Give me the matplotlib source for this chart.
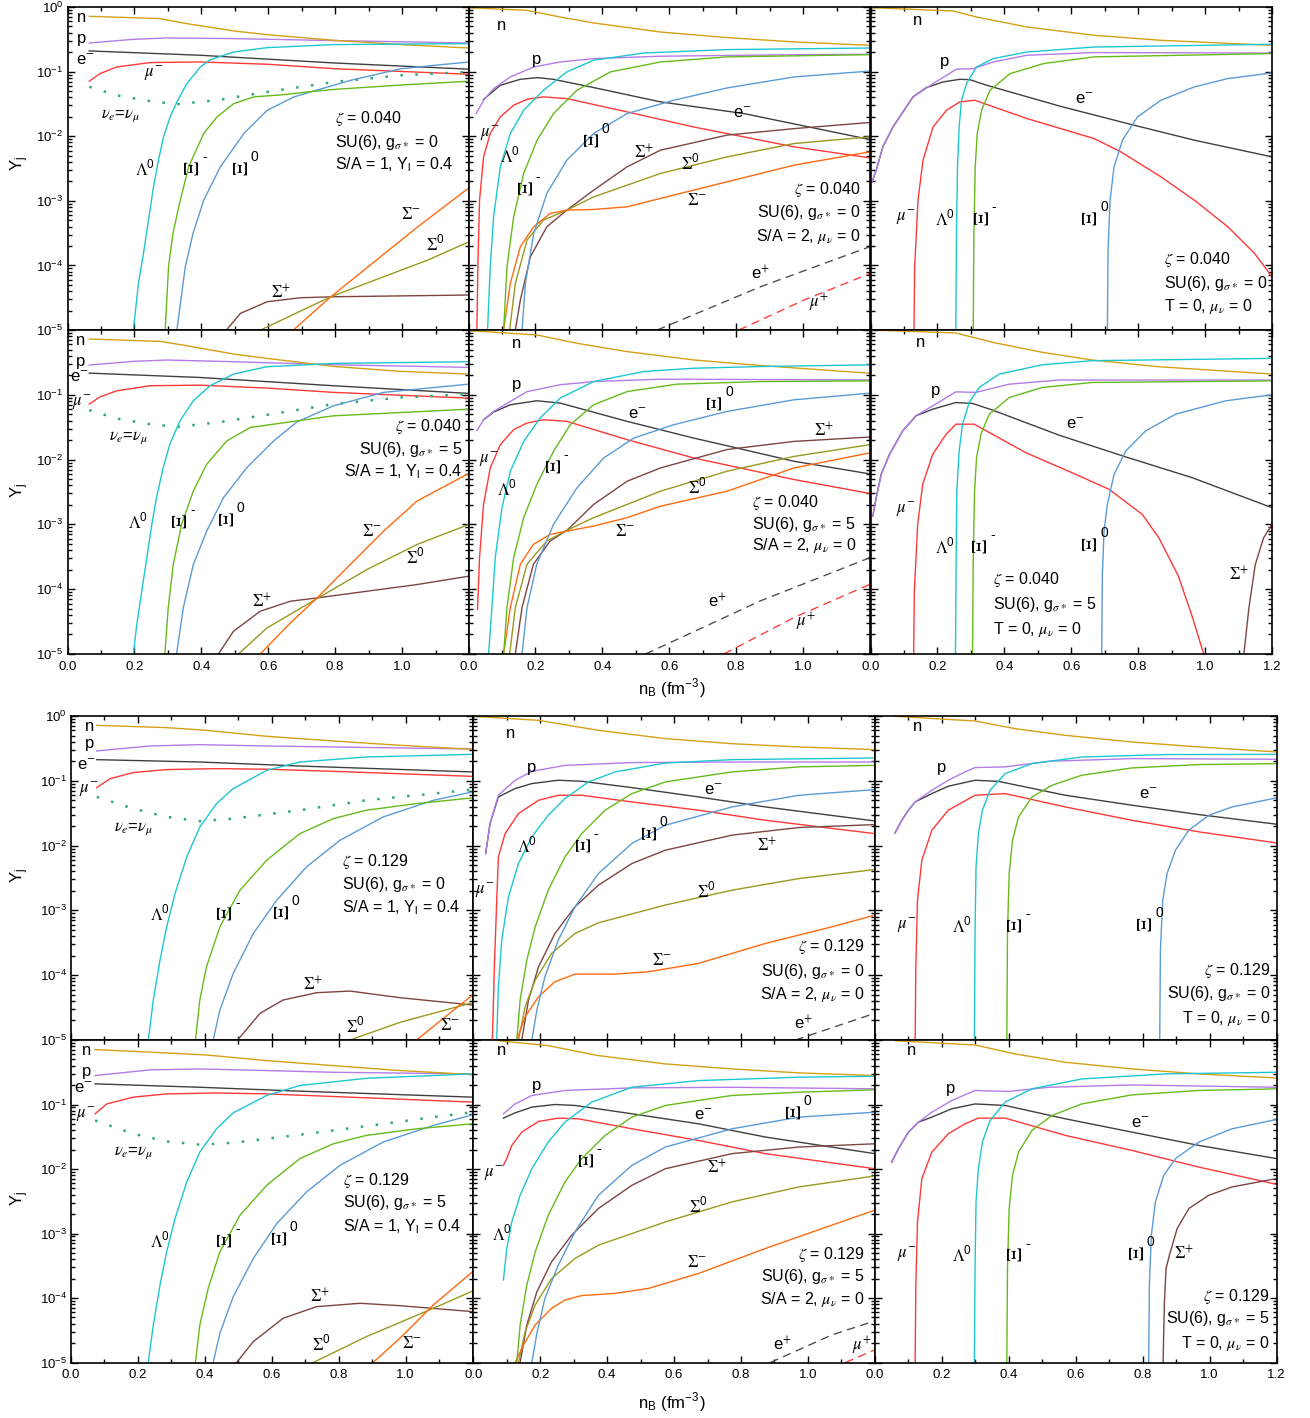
import matplotlib

matplotlib.use("Agg")
import matplotlib.pyplot as plt
from matplotlib.ticker import FixedFormatter, FixedLocator, LogLocator, NullFormatter

plt.rcParams["font.family"] = ["Liberation Sans", "DejaVu Sans"]
plt.rcParams["mathtext.fontset"] = "stix"

# ---- particle fractions Y_j versus n_B, one dict per panel: key -> (n_B, Y) ----

# zeta = 0.040, g_sigma* = 0, S/A = 1, Y_l = 0.4
A1 = {
    "n": ([0.065, 0.277, 0.357, 0.497, 0.597, 0.797, 0.997, 1.2], [0.718, 0.661, 0.552, 0.426, 0.373, 0.305, 0.262, 0.232]),
    "p": ([0.065, 0.197, 0.297, 0.497, 0.797, 1.2], [0.277, 0.316, 0.332, 0.324, 0.302, 0.277]),
    "e": ([0.065, 0.397, 0.797, 1.2], [0.209, 0.179, 0.136, 0.109]),
    "mu": ([0.065, 0.097, 0.147, 0.247, 0.397, 0.597, 0.797, 1.2], [0.071, 0.093, 0.118, 0.138, 0.141, 0.130, 0.111, 0.091]),
    "nu": ([0.065, 0.147, 0.247, 0.327, 0.447, 0.597, 0.797, 0.997, 1.2], [0.058, 0.043, 0.0348, 0.0313, 0.0361, 0.0485, 0.0692, 0.0877, 0.0989]),
    "lam": ([0.197, 0.212, 0.227, 0.242, 0.257, 0.272, 0.287, 0.307, 0.327, 0.357, 0.397, 0.427, 0.497, 0.597, 0.797, 1.2],
            [1e-5, 5.27e-5, 1.53e-4, 5.02e-4, 1.64e-3, 4.26e-3, 9.77e-3, 0.0199, 0.034, 0.0652, 0.118, 0.153, 0.201, 0.235, 0.262, 0.271]),
    "xim": ([0.292, 0.302, 0.315, 0.337, 0.362, 0.407, 0.447, 0.497, 0.557, 0.647, 0.727, 0.797, 0.997, 1.2],
            [1e-5, 9.5e-5, 3.1e-4, 1.02e-3, 3.36e-3, 0.011, 0.0199, 0.032, 0.0406, 0.044, 0.049, 0.053, 0.062, 0.071]),
    "xi0": ([0.327, 0.352, 0.375, 0.407, 0.457, 0.527, 0.597, 0.677, 0.727, 0.847, 0.997, 1.2],
            [1e-5, 9.5e-5, 3.1e-4, 1.02e-3, 3.36e-3, 0.011, 0.0252, 0.0406, 0.0485, 0.0735, 0.111, 0.141]),
    "sigp": ([0.475, 0.517, 0.597, 0.697, 0.797, 1.2], [1e-5, 1.81e-5, 2.74e-5, 3.16e-5, 3.27e-5, 3.48e-5]),
    "sig0": ([0.577, 0.787, 1.077, 1.2], [1e-5, 3.27e-5, 1.21e-4, 2.32e-4]),
    "sigm": ([0.675, 0.787, 1.047, 1.2], [1e-5, 3.27e-5, 3.96e-4, 1.59e-3]),
}

# zeta = 0.040, g_sigma* = 0, S/A = 2, mu_nu = 0
A2 = {
    "n": ([0.0, 0.175, 0.274, 0.374, 0.574, 0.773, 0.973, 1.2], [0.977, 0.887, 0.70, 0.566, 0.41, 0.336, 0.288, 0.255]),
    "p": ([0.023, 0.045, 0.075, 0.125, 0.195, 0.274, 0.374, 0.574, 0.973, 1.2], [0.0224, 0.036, 0.0546, 0.0827, 0.118, 0.141, 0.159, 0.173, 0.183, 0.185]),
    "e": ([0.045, 0.095, 0.155, 0.205, 0.254, 0.374, 0.574, 0.823, 1.2], [0.037, 0.0615, 0.076, 0.0807, 0.076, 0.0566, 0.034, 0.0224, 0.00888]),
    "mu": ([0.025, 0.028, 0.033, 0.045, 0.065, 0.095, 0.135, 0.175, 0.224, 0.294, 0.474, 0.673, 0.973, 1.2],
           [1e-5, 9.5e-5, 1.02e-3, 4.79e-3, 0.011, 0.0199, 0.0302, 0.0373, 0.0406, 0.0382, 0.0238, 0.0139, 0.00684, 0.00462]),
    "lam": ([0.057, 0.065, 0.075, 0.095, 0.125, 0.165, 0.224, 0.294, 0.374, 0.524, 0.773, 1.2],
            [1e-5, 9.5e-5, 5.66e-4, 3.36e-3, 0.011, 0.0252, 0.0514, 0.0989, 0.15, 0.194, 0.219, 0.232]),
    "xim": ([0.105, 0.115, 0.135, 0.165, 0.205, 0.254, 0.324, 0.424, 0.574, 0.773, 1.2],
            [1e-5, 9.5e-5, 5.66e-4, 2.65e-3, 8.67e-3, 0.0224, 0.0514, 0.0989, 0.141, 0.169, 0.183]),
    "xi0": ([0.16, 0.17, 0.195, 0.234, 0.294, 0.374, 0.474, 0.613, 0.773, 0.973, 1.2],
            [1e-5, 5.27e-5, 3.13e-4, 1.3e-3, 4.26e-3, 0.011, 0.0224, 0.036, 0.0559, 0.0827, 0.102]),
    "sigp": ([0.14, 0.155, 0.185, 0.234, 0.294, 0.374, 0.474, 0.574, 0.773, 0.973, 1.2],
             [1e-5, 2.91e-5, 1.36e-4, 3.96e-4, 7.18e-4, 1.46e-3, 3.36e-3, 6.08e-3, 0.0104, 0.0131, 0.0163]),
    "sig0": ([0.123, 0.14, 0.175, 0.224, 0.294, 0.374, 0.574, 0.773, 0.973, 1.2],
             [1e-5, 5.27e-5, 2.47e-4, 5.02e-4, 7.18e-4, 1.15e-3, 2.65e-3, 4.79e-3, 7.7e-3, 9.77e-3]),
    "sigm": ([0.105, 0.125, 0.155, 0.195, 0.244, 0.294, 0.374, 0.474, 0.574, 0.773, 0.973, 1.2],
             [1e-5, 5.27e-5, 1.95e-4, 3.96e-4, 6.37e-4, 7.18e-4, 7.34e-4, 8.07e-4, 1.09e-3, 1.97e-3, 3.56e-3, 5.73e-3]),
    "ep": ([0.564, 0.873, 1.2], [1e-5, 4.68e-5, 1.95e-4]),
    "mup": ([0.808, 1.003, 1.2], [1e-5, 2.91e-5, 7.5e-5]),
}

# zeta = 0.040, g_sigma* = 0, T = 0
A3 = {
    "e": ([0.005, 0.017, 0.037, 0.067, 0.127, 0.167, 0.217, 0.267, 0.297, 0.347, 0.567, 0.768, 0.968, 1.2],
          [1.97e-3, 2.98e-3, 6.84e-3, 0.0139, 0.0406, 0.0566, 0.0692, 0.076, 0.075, 0.0615, 0.0291, 0.0157, 8.67e-3, 4.79e-3]),
    "p": ([0.005, 0.017, 0.037, 0.067, 0.127, 0.187, 0.257, 0.307, 0.367, 0.467, 0.668, 1.2],
          [1.97e-3, 2.98e-3, 6.84e-3, 0.0139, 0.0406, 0.0652, 0.109, 0.111, 0.141, 0.179, 0.197, 0.194]),
    "n": ([0.0, 0.247, 0.317, 0.467, 0.668, 0.868, 1.2], [0.977, 0.867, 0.70, 0.491, 0.365, 0.305, 0.255]),
    "mu": ([0.13, 0.132, 0.142, 0.157, 0.187, 0.227, 0.267, 0.312, 0.467, 0.668, 0.748, 0.868, 0.968, 1.068, 1.148, 1.2],
           [1e-5, 9.5e-5, 1.02e-3, 4.26e-3, 0.0139, 0.0252, 0.034, 0.036, 0.0188, 9.2e-3, 5.73e-3, 2.35e-3, 1.02e-3, 3.96e-4, 1.53e-4, 6.7e-5]),
    "lam": ([0.255, 0.257, 0.26, 0.265, 0.272, 0.287, 0.317, 0.367, 0.467, 0.668, 1.2],
            [1e-5, 3.13e-4, 3.36e-3, 0.0139, 0.036, 0.0652, 0.118, 0.159, 0.201, 0.24, 0.265]),
    "xim": ([0.307, 0.309, 0.313, 0.319, 0.332, 0.357, 0.417, 0.517, 0.668, 1.2],
            [1e-5, 3.13e-4, 3.36e-3, 0.011, 0.0252, 0.0514, 0.093, 0.133, 0.169, 0.19]),
    "xi0": ([0.708, 0.71, 0.716, 0.728, 0.753, 0.798, 0.868, 0.968, 1.068, 1.2],
            [1e-5, 1.73e-4, 1.02e-3, 3.36e-3, 8.67e-3, 0.0199, 0.036, 0.058, 0.078, 0.0953]),
}

# zeta = 0.040, g_sigma* = 5, S/A = 1, Y_l = 0.4
B1 = {
    "n": ([0.065, 0.276, 0.356, 0.496, 0.596, 0.795, 0.995, 1.2], [0.726, 0.668, 0.573, 0.426, 0.365, 0.274, 0.23, 0.209]),
    "p": ([0.065, 0.197, 0.296, 0.496, 0.795, 1.2], [0.288, 0.328, 0.344, 0.324, 0.291, 0.265]),
    "e": ([0.065, 0.396, 0.795, 1.2], [0.216, 0.185, 0.138, 0.105]),
    "mu": ([0.065, 0.097, 0.147, 0.246, 0.396, 0.596, 0.795, 1.2], [0.0718, 0.093, 0.115, 0.138, 0.141, 0.127, 0.109, 0.0888]),
    "nu": ([0.065, 0.147, 0.246, 0.326, 0.446, 0.596, 0.795, 0.995, 1.2], [0.058, 0.043, 0.0352, 0.032, 0.0373, 0.0491, 0.0718, 0.091, 0.102]),
    "lam": ([0.197, 0.207, 0.222, 0.237, 0.252, 0.266, 0.286, 0.306, 0.336, 0.376, 0.426, 0.496, 0.596, 0.795, 1.2],
            [1e-5, 2.84e-5, 9.31e-5, 3.05e-4, 1e-3, 2.58e-3, 7.52e-3, 0.0173, 0.0396, 0.0807, 0.138, 0.209, 0.271, 0.305, 0.324]),
    "xim": ([0.291, 0.301, 0.316, 0.341, 0.376, 0.416, 0.476, 0.546, 0.686, 0.795, 1.2],
            [1e-5, 5.14e-5, 2.4e-4, 1e-3, 3.27e-3, 8.47e-3, 0.0194, 0.0313, 0.0396, 0.0474, 0.06]),
    "xi0": ([0.326, 0.346, 0.376, 0.416, 0.466, 0.536, 0.616, 0.686, 0.795, 0.945, 1.2],
            [1e-5, 5.14e-5, 2.4e-4, 7.88e-4, 2.58e-3, 7.52e-3, 0.0194, 0.0382, 0.0676, 0.109, 0.146]),
    "sigp": ([0.451, 0.496, 0.576, 0.666, 0.746, 0.895, 1.045, 1.2], [1e-5, 2.24e-5, 4.57e-5, 6.52e-5, 7.34e-5, 9.31e-5, 1.18e-4, 1.59e-4]),
    "sig0": ([0.511, 0.596, 0.746, 0.895, 1.045, 1.2], [1e-5, 2.52e-5, 7.18e-5, 2.01e-4, 4.91e-4, 1e-3]),
    "sigm": ([0.576, 0.666, 0.746, 0.845, 0.945, 1.045, 1.2], [1e-5, 3.01e-5, 7.34e-5, 2.4e-4, 7.9e-4, 2.3e-3, 6.15e-3]),
}

# zeta = 0.040, g_sigma* = 5, S/A = 2, mu_nu = 0
B2 = {
    "n": ([0.0, 0.204, 0.324, 0.474, 0.673, 0.873, 1.2], [0.98, 0.838, 0.624, 0.464, 0.345, 0.283, 0.215]),
    "p": ([0.025, 0.045, 0.075, 0.125, 0.175, 0.274, 0.374, 0.574, 1.2], [0.0279, 0.0412, 0.0554, 0.0789, 0.112, 0.143, 0.16, 0.174, 0.17]),
    "e": ([0.045, 0.075, 0.125, 0.204, 0.274, 0.474, 0.673, 0.973, 1.2], [0.0412, 0.0541, 0.0702, 0.0809, 0.0745, 0.0389, 0.0215, 9.42e-3, 6.01e-3]),
    "mu": ([0.027, 0.033, 0.045, 0.065, 0.095, 0.135, 0.175, 0.224, 0.294, 0.474, 0.673, 0.973, 1.2],
           [4.92e-5, 3.07e-4, 2.03e-3, 7.44e-3, 0.017, 0.029, 0.0367, 0.0412, 0.0389, 0.0203, 0.0106, 4.92e-3, 3.0e-3]),
    "lam": ([0.06, 0.07, 0.08, 0.1, 0.125, 0.165, 0.214, 0.274, 0.374, 0.524, 0.673, 0.873, 1.2],
            [1e-5, 5.22e-5, 3.07e-4, 1.8e-3, 6.62e-3, 0.0191, 0.0438, 0.0889, 0.16, 0.229, 0.257, 0.273, 0.29]),
    "xim": ([0.105, 0.115, 0.135, 0.165, 0.204, 0.254, 0.304, 0.374, 0.474, 0.623, 0.873, 1.2],
            [1e-5, 5.22e-5, 3.07e-4, 1.27e-3, 4.12e-3, 0.0134, 0.0345, 0.0702, 0.112, 0.146, 0.16, 0.164]),
    "xi0": ([0.16, 0.175, 0.204, 0.254, 0.324, 0.404, 0.494, 0.613, 0.773, 0.973, 1.2],
            [1e-5, 5.22e-5, 2.43e-4, 1e-3, 3.66e-3, 0.0106, 0.0215, 0.0345, 0.0554, 0.0838, 0.106]),
    "sigp": ([0.14, 0.16, 0.194, 0.244, 0.294, 0.374, 0.474, 0.574, 0.773, 0.973, 1.2],
             [1e-5, 5.22e-5, 2.43e-4, 5.54e-4, 8.09e-4, 2.03e-3, 4.64e-3, 7.44e-3, 0.0143, 0.0191, 0.0223]),
    "sig0": ([0.123, 0.14, 0.175, 0.234, 0.294, 0.374, 0.574, 0.773, 0.973, 1.2],
             [1e-5, 5.22e-5, 2.43e-4, 5.54e-4, 8.09e-4, 1.27e-3, 3.26e-3, 6.62e-3, 0.0112, 0.017]),
    "sigm": ([0.105, 0.125, 0.155, 0.194, 0.244, 0.294, 0.374, 0.474, 0.574, 0.773, 0.973, 1.2],
             [1e-5, 5.22e-5, 2.43e-4, 4.92e-4, 7.02e-4, 7.88e-4, 9.42e-4, 1.27e-3, 1.91e-3, 3.26e-3, 7.44e-3, 0.0127]),
    "ep": ([0.529, 0.873, 1.2], [1e-5, 6.62e-5, 3.07e-4]),
    "mup": ([0.763, 0.973, 1.2], [1e-5, 3.66e-5, 1.19e-4]),
}

# zeta = 0.040, g_sigma* = 5, T = 0
B3 = {
    "e": ([0.007, 0.017, 0.032, 0.057, 0.096, 0.136, 0.186, 0.255, 0.305, 0.365, 0.564, 0.763, 0.961, 1.2],
          [1.35e-3, 2.58e-3, 5.93e-3, 0.0121, 0.0277, 0.0474, 0.06, 0.076, 0.0735, 0.058, 0.0238, 0.011, 5.27e-3, 1.81e-3]),
    "p": ([0.007, 0.017, 0.032, 0.057, 0.096, 0.136, 0.186, 0.255, 0.315, 0.415, 0.564, 1.2],
          [1.35e-3, 2.58e-3, 5.93e-3, 0.0121, 0.0277, 0.0474, 0.0676, 0.111, 0.109, 0.146, 0.169, 0.169]),
    "n": ([0.0, 0.255, 0.365, 0.514, 0.663, 0.862, 1.2], [1.0, 0.9, 0.645, 0.452, 0.344, 0.271, 0.209]),
    "mu": ([0.129, 0.131, 0.141, 0.156, 0.186, 0.226, 0.255, 0.31, 0.464, 0.613, 0.713, 0.812, 0.862, 0.92, 0.96, 0.996],
           [1e-5, 9.31e-5, 1e-3, 4.16e-3, 0.0121, 0.0246, 0.0352, 0.0352, 0.0128, 5.93e-3, 3.48e-3, 1.43e-3, 6.2e-4, 1.6e-4, 4e-5, 1e-5]),
    "lam": ([0.254, 0.256, 0.258, 0.265, 0.275, 0.295, 0.325, 0.385, 0.514, 0.663, 1.2],
            [1e-5, 3.05e-4, 3.27e-3, 0.0136, 0.0352, 0.076, 0.13, 0.209, 0.291, 0.336, 0.365]),
    "xim": ([0.305, 0.307, 0.311, 0.317, 0.33, 0.355, 0.415, 0.514, 0.663, 1.2],
            [1e-5, 3.05e-4, 3.27e-3, 0.0107, 0.0246, 0.0502, 0.091, 0.13, 0.155, 0.164]),
    "xi0": ([0.691, 0.693, 0.698, 0.708, 0.728, 0.763, 0.822, 0.912, 1.061, 1.2],
            [1e-5, 1.69e-4, 7.88e-4, 2.04e-3, 5.93e-3, 0.0136, 0.0277, 0.0502, 0.0807, 0.1]),
    "sigp": ([1.116, 1.131, 1.15, 1.175, 1.2], [1e-5, 5.14e-5, 2.4e-4, 6.22e-4, 1e-3]),
}

# zeta = 0.129, g_sigma* = 0, S/A = 1, Y_l = 0.4
C1 = {
    "n": ([0.077, 0.286, 0.405, 0.585, 0.784, 0.983, 1.2], [0.718, 0.661, 0.601, 0.486, 0.412, 0.353, 0.306]),
    "p": ([0.077, 0.236, 0.385, 0.585, 0.784, 0.983, 1.2], [0.289, 0.345, 0.361, 0.345, 0.333, 0.321, 0.31]),
    "e": ([0.077, 0.385, 0.684, 1.2], [0.212, 0.195, 0.169, 0.137]),
    "mu": ([0.077, 0.117, 0.186, 0.286, 0.435, 0.585, 0.784, 1.2], [0.0785, 0.108, 0.134, 0.149, 0.154, 0.151, 0.14, 0.117]),
    "nu": ([0.077, 0.186, 0.286, 0.385, 0.485, 0.684, 0.883, 1.083, 1.2], [0.0564, 0.0372, 0.0277, 0.0238, 0.0261, 0.0352, 0.0501, 0.0635, 0.0731]),
    "lam": ([0.231, 0.246, 0.266, 0.286, 0.311, 0.346, 0.385, 0.435, 0.485, 0.585, 0.684, 0.883, 1.2],
            [1e-5, 4.14e-5, 1.71e-4, 5.58e-4, 1.82e-3, 6.7e-3, 0.0194, 0.0445, 0.0759, 0.145, 0.195, 0.233, 0.256]),
    "xim": ([0.372, 0.385, 0.405, 0.445, 0.505, 0.585, 0.684, 0.784, 0.883, 1.033, 1.2],
            [1e-5, 4.14e-5, 1.35e-4, 5.58e-4, 2.05e-3, 5.96e-3, 0.0153, 0.0261, 0.0352, 0.0445, 0.0545]),
    "xi0": ([0.425, 0.445, 0.485, 0.545, 0.615, 0.704, 0.804, 0.933, 1.083, 1.2],
            [1e-5, 2.9e-5, 1.07e-4, 4.41e-4, 1.44e-3, 4.7e-3, 0.0121, 0.0277, 0.0501, 0.0673]),
    "sigp": ([0.498, 0.565, 0.634, 0.734, 0.834, 0.983, 1.2], [1e-5, 2.58e-5, 4.14e-5, 5.37e-5, 5.69e-5, 4.5e-5, 3.47e-5]),
    "sig0": ([0.834, 0.983, 1.2], [1e-5, 1.87e-5, 3.77e-5]),
    "sigm": ([1.033, 1.113, 1.2], [1e-5, 2.16e-5, 4.94e-5]),
}

# zeta = 0.129, g_sigma* = 0, S/A = 2, mu_nu = 0
C2 = {
    "e": ([0.037, 0.05, 0.075, 0.125, 0.175, 0.254, 0.324, 0.474, 0.673, 0.873, 1.2],
          [7.55e-3, 0.0219, 0.0564, 0.0759, 0.0906, 0.102, 0.0984, 0.0785, 0.0564, 0.0395, 0.024]),
    "p": ([0.037, 0.05, 0.075, 0.125, 0.175, 0.274, 0.474, 0.773, 1.2], [7.55e-3, 0.0219, 0.0598, 0.102, 0.14, 0.173, 0.191, 0.195, 0.195]),
    "n": ([0.0, 0.195, 0.374, 0.574, 0.773, 0.973, 1.2], [0.99, 0.857, 0.601, 0.448, 0.374, 0.333, 0.303]),
    "mu": ([0.057, 0.063, 0.07, 0.075, 0.095, 0.135, 0.195, 0.254, 0.324, 0.474, 0.673, 0.873, 1.2],
           [1e-5, 1.35e-4, 1.44e-3, 6.7e-3, 0.0153, 0.0312, 0.0501, 0.0598, 0.0598, 0.0472, 0.0352, 0.0246, 0.0153]),
    "lam": ([0.07, 0.075, 0.085, 0.105, 0.135, 0.175, 0.224, 0.274, 0.344, 0.424, 0.574, 0.773, 1.2],
            [1e-5, 6.64e-5, 3.48e-4, 1.62e-3, 5.29e-3, 0.0136, 0.0294, 0.0532, 0.0961, 0.137, 0.188, 0.212, 0.225]),
    "xim": ([0.13, 0.14, 0.16, 0.185, 0.224, 0.274, 0.324, 0.394, 0.474, 0.574, 0.773, 0.973, 1.2],
            [1e-5, 4.14e-5, 1.71e-4, 5.58e-4, 2.05e-3, 6.7e-3, 0.0153, 0.0352, 0.0635, 0.0961, 0.137, 0.164, 0.173]),
    "xi0": ([0.175, 0.19, 0.214, 0.254, 0.304, 0.374, 0.474, 0.574, 0.773, 0.973, 1.2],
            [1e-5, 2.9e-5, 9.46e-5, 3.48e-4, 1.14e-3, 3.71e-3, 0.0108, 0.0206, 0.0395, 0.0598, 0.0731]),
    "sigp": ([0.145, 0.165, 0.195, 0.244, 0.304, 0.374, 0.474, 0.574, 0.773, 0.973, 1.2],
             [1e-5, 4.14e-5, 1.35e-4, 4.41e-4, 1.14e-3, 2.45e-3, 5.29e-3, 8.49e-3, 0.0145, 0.019, 0.0211]),
    "sig0": ([0.135, 0.155, 0.185, 0.234, 0.304, 0.374, 0.574, 0.773, 0.973, 1.2],
             [1e-5, 3.27e-5, 8.41e-5, 2.17e-4, 4.41e-4, 6.44e-4, 1.21e-3, 2.05e-3, 3.1e-3, 4.27e-3]),
    "sigm": ([0.13, 0.155, 0.195, 0.244, 0.304, 0.424, 0.524, 0.673, 0.873, 1.072, 1.2],
             [1e-5, 2.29e-5, 4.66e-5, 7.93e-5, 1.04e-4, 1.04e-4, 1.13e-4, 1.52e-4, 3.09e-4, 5.58e-4, 8.45e-4]),
    "ep": ([0.963, 1.2], [1e-5, 2.58e-5]),
}

# zeta = 0.129, g_sigma* = 0, T = 0
C3 = {
    "e": ([0.06, 0.08, 0.1, 0.12, 0.17, 0.219, 0.299, 0.369, 0.569, 0.768, 0.968, 1.2],
          [0.0157, 0.0246, 0.0352, 0.0472, 0.0635, 0.0824, 0.102, 0.098, 0.0598, 0.042, 0.0301, 0.0214]),
    "p": ([0.06, 0.08, 0.1, 0.12, 0.17, 0.219, 0.269, 0.299, 0.389, 0.519, 0.768, 1.2],
          [0.0157, 0.0246, 0.0352, 0.0472, 0.0715, 0.102, 0.137, 0.16, 0.164, 0.2, 0.22, 0.215]),
    "n": ([0.06, 0.299, 0.419, 0.569, 0.768, 0.968, 1.2], [0.99, 0.837, 0.638, 0.503, 0.397, 0.333, 0.279]),
    "mu": ([0.12, 0.122, 0.127, 0.14, 0.17, 0.219, 0.299, 0.389, 0.569, 0.768, 0.968, 1.2],
           [1e-5, 1.35e-4, 1.44e-3, 5.96e-3, 0.0173, 0.0352, 0.0598, 0.0635, 0.0395, 0.0246, 0.0163, 0.011]),
    "lam": ([0.297, 0.299, 0.302, 0.309, 0.321, 0.344, 0.389, 0.469, 0.618, 0.868, 1.2],
            [1e-5, 4.49e-4, 4.7e-3, 0.0153, 0.0352, 0.0715, 0.129, 0.184, 0.233, 0.254, 0.256]),
    "xim": ([0.394, 0.396, 0.401, 0.411, 0.429, 0.469, 0.529, 0.618, 0.768, 0.968, 1.2],
            [1e-5, 4.49e-4, 3.71e-3, 0.0121, 0.0277, 0.0564, 0.0853, 0.122, 0.158, 0.178, 0.184]),
    "xi0": ([0.851, 0.853, 0.86, 0.873, 0.898, 0.938, 0.998, 1.067, 1.2],
            [1e-5, 2.44e-4, 1.44e-3, 3.71e-3, 8.49e-3, 0.0173, 0.0294, 0.0395, 0.0545]),
}

# zeta = 0.129, g_sigma* = 5, S/A = 1, Y_l = 0.4
D1 = {
    "n": ([0.072, 0.286, 0.405, 0.585, 0.784, 0.983, 1.2], [0.71, 0.63, 0.586, 0.479, 0.401, 0.336, 0.291]),
    "p": ([0.072, 0.236, 0.385, 0.585, 0.784, 1.2], [0.281, 0.344, 0.356, 0.336, 0.316, 0.298]),
    "e": ([0.072, 0.385, 0.684, 1.2], [0.209, 0.185, 0.161, 0.13]),
    "mu": ([0.072, 0.107, 0.186, 0.286, 0.435, 0.585, 0.784, 1.2], [0.0718, 0.102, 0.13, 0.146, 0.151, 0.146, 0.133, 0.109]),
    "nu": ([0.072, 0.186, 0.286, 0.385, 0.485, 0.684, 0.883, 1.083, 1.2], [0.0566, 0.0352, 0.0268, 0.0238, 0.0255, 0.034, 0.0462, 0.0637, 0.076]),
    "lam": ([0.231, 0.246, 0.266, 0.286, 0.311, 0.346, 0.385, 0.435, 0.485, 0.585, 0.684, 0.883, 1.2],
            [1e-5, 3.82e-5, 1.59e-4, 5.2e-4, 1.71e-3, 6.3e-3, 0.0183, 0.042, 0.0743, 0.138, 0.197, 0.255, 0.298]),
    "xim": ([0.372, 0.385, 0.41, 0.445, 0.505, 0.585, 0.684, 0.784, 0.883, 1.033, 1.2],
            [1e-5, 3.82e-5, 1.41e-4, 5.2e-4, 1.92e-3, 5.59e-3, 0.0145, 0.0246, 0.0332, 0.042, 0.0502]),
    "xi0": ([0.425, 0.445, 0.485, 0.545, 0.615, 0.704, 0.804, 0.933, 1.083, 1.2],
            [1e-5, 2.84e-5, 1.05e-4, 4.1e-4, 1.43e-3, 4.41e-3, 0.0114, 0.0262, 0.0474, 0.0692]),
    "sigp": ([0.495, 0.545, 0.634, 0.734, 0.864, 0.983, 1.2], [1e-5, 2.11e-5, 4.85e-5, 7.34e-5, 8.28e-5, 7.6e-5, 6.15e-5]),
    "sig0": ([0.724, 0.883, 1.083, 1.2], [1e-5, 2.52e-5, 6.92e-5, 1.28e-4]),
    "sigm": ([0.903, 0.983, 1.083, 1.2], [1e-5, 2.38e-5, 7.8e-5, 2.55e-4]),
}

# zeta = 0.129, g_sigma* = 5, S/A = 2, mu_nu = 0
D2 = {
    "n": ([0.075, 0.224, 0.374, 0.574, 0.773, 0.973, 1.2], [0.976, 0.817, 0.573, 0.426, 0.356, 0.309, 0.281]),
    "p": ([0.09, 0.125, 0.175, 0.274, 0.474, 0.773, 1.2], [0.0718, 0.102, 0.138, 0.165, 0.181, 0.185, 0.175]),
    "e": ([0.09, 0.125, 0.175, 0.244, 0.304, 0.474, 0.673, 0.873, 1.2], [0.0615, 0.0743, 0.091, 0.1, 0.0966, 0.0718, 0.0502, 0.0313, 0.0173]),
    "mu": ([0.09, 0.1, 0.115, 0.145, 0.195, 0.254, 0.314, 0.474, 0.673, 0.873, 1.2],
           [0.0114, 0.0145, 0.0232, 0.0373, 0.0546, 0.0615, 0.06, 0.042, 0.0277, 0.0173, 0.0101]),
    "lam": ([0.09, 0.1, 0.115, 0.14, 0.175, 0.224, 0.274, 0.354, 0.474, 0.673, 0.973, 1.2],
            [1.9e-4, 5.86e-4, 1.51e-3, 3.92e-3, 0.0101, 0.0262, 0.0533, 0.109, 0.185, 0.235, 0.265, 0.274]),
    "xim": ([0.13, 0.14, 0.16, 0.185, 0.224, 0.274, 0.324, 0.394, 0.474, 0.574, 0.773, 0.973, 1.2],
            [1e-5, 3.82e-5, 1.59e-4, 5.2e-4, 1.92e-3, 6.3e-3, 0.0145, 0.0332, 0.0637, 0.0966, 0.138, 0.155, 0.169]),
    "xi0": ([0.175, 0.19, 0.214, 0.254, 0.304, 0.374, 0.474, 0.574, 0.773, 0.973, 1.2],
            [1e-5, 2.84e-5, 9.89e-5, 3.24e-4, 1.06e-3, 3.92e-3, 0.0114, 0.0219, 0.042, 0.0637, 0.076]),
    "sigp": ([0.14, 0.16, 0.19, 0.234, 0.294, 0.374, 0.474, 0.574, 0.773, 0.973, 1.2],
             [1e-5, 3.82e-5, 1.25e-4, 3.65e-4, 9.42e-4, 2.44e-3, 5.59e-3, 0.0101, 0.0173, 0.0219, 0.0246]),
    "sig0": ([0.135, 0.155, 0.185, 0.234, 0.304, 0.374, 0.574, 0.773, 0.973, 1.2],
             [1e-5, 3.01e-5, 7.8e-5, 2.01e-4, 4.1e-4, 6.6e-4, 1.51e-3, 3.09e-3, 5.27e-3, 7.8e-3]),
    "sigm": ([0.125, 0.15, 0.185, 0.234, 0.274, 0.324, 0.424, 0.524, 0.673, 0.873, 1.072, 1.2],
             [1e-5, 1.87e-5, 3.82e-5, 6.92e-5, 9.31e-5, 1.09e-4, 1.18e-4, 1.41e-4, 2.4e-4, 5.86e-4, 1.35e-3, 2.3e-3]),
    "ep": ([0.888, 1.072, 1.2], [1e-5, 2.68e-5, 4.41e-5]),
    "mup": ([1.112, 1.2], [1e-5, 1.57e-5]),
}

# zeta = 0.129, g_sigma* = 5, T = 0
D3 = {
    "e": ([0.05, 0.07, 0.1, 0.13, 0.17, 0.229, 0.299, 0.389, 0.569, 0.768, 0.968, 1.2],
          [0.0128, 0.0206, 0.0373, 0.0533, 0.0637, 0.0857, 0.102, 0.0966, 0.06, 0.0373, 0.0232, 0.0145]),
    "p": ([0.05, 0.07, 0.1, 0.13, 0.17, 0.229, 0.299, 0.399, 0.519, 0.768, 1.2],
          [0.0128, 0.0206, 0.0373, 0.0533, 0.076, 0.115, 0.165, 0.159, 0.185, 0.201, 0.185]),
    "n": ([0.06, 0.299, 0.419, 0.569, 0.768, 0.968, 1.2], [0.976, 0.837, 0.608, 0.452, 0.356, 0.298, 0.258]),
    "mu": ([0.12, 0.122, 0.127, 0.14, 0.17, 0.219, 0.269, 0.309, 0.389, 0.569, 0.768, 0.968, 1.2],
           [1e-5, 1.59e-4, 1.51e-3, 7.1e-3, 0.0183, 0.0352, 0.0502, 0.0615, 0.0615, 0.0332, 0.0194, 0.0107, 5.79e-3]),
    "lam": ([0.297, 0.299, 0.302, 0.309, 0.321, 0.344, 0.389, 0.469, 0.618, 0.868, 1.2],
            [1e-5, 2.88e-4, 3.09e-3, 0.0101, 0.0262, 0.0566, 0.109, 0.175, 0.249, 0.298, 0.316]),
    "xim": ([0.394, 0.396, 0.401, 0.411, 0.429, 0.469, 0.529, 0.618, 0.768, 0.968, 1.2],
            [1e-5, 2.88e-4, 2.44e-3, 7.98e-3, 0.0183, 0.0396, 0.0676, 0.102, 0.141, 0.165, 0.175]),
    "xi0": ([0.818, 0.82, 0.826, 0.838, 0.863, 0.898, 0.968, 1.067, 1.2],
            [1e-5, 1.59e-4, 9.42e-4, 3.09e-3, 7.98e-3, 0.0145, 0.0262, 0.042, 0.0586]),
    "sigp": ([0.861, 0.865, 0.87, 0.88, 0.903, 0.938, 0.998, 1.067, 1.2],
             [1e-5, 8.77e-5, 2.88e-4, 4.62e-4, 1.19e-3, 2.44e-3, 3.92e-3, 5.27e-3, 7.1e-3]),
}

# ---- curve label anchors (n_B, Y) ----
A1_LABELS = {"n": (0.042, 0.70), "p": (0.042, 0.32), "e": (0.052, 0.15), "mu": (0.257, 0.093), "nu": (0.157, 0.021),
             "lam": (0.232, 3.16e-3), "xim": (0.377, 3.16e-3), "xi0": (0.522, 3.16e-3), "sigp": (0.637, 3.9e-5),
             "sig0": (1.1, 2.2e-4), "sigm": (1.027, 6.3e-4)}
A2_LABELS = {"n": (0.1, 0.52), "p": (0.204, 0.153), "e": (0.818, 0.023), "mu": (0.063, 0.011), "lam": (0.125, 5.1e-3),
             "xim": (0.175, 1.55e-3), "xi0": (0.374, 8.7e-3), "sigp": (0.524, 5.7e-3), "sig0": (0.663, 4e-3),
             "sigm": (0.683, 1.02e-3), "ep": (0.873, 7.5e-5), "mup": (1.047, 2.6e-5)}
A3_LABELS = {"n": (0.142, 0.62), "p": (0.222, 0.141), "e": (0.638, 0.038), "mu": (0.107, 5.4e-4),
             "lam": (0.222, 5.4e-4), "xim": (0.337, 5.4e-4), "xi0": (0.662, 5.4e-4)}
B1_LABELS = {"n": (0.04, 0.68), "p": (0.04, 0.33), "e": (0.035, 0.186), "mu": (0.042, 0.076), "nu": (0.182, 0.022),
             "lam": (0.212, 1.12e-3), "xim": (0.341, 1.12e-3), "xi0": (0.48, 1.2e-3), "sigp": (0.581, 6.5e-5),
             "sig0": (1.04, 3.2e-4), "sigm": (0.91, 7.9e-4)}
B2_LABELS = {"n": (0.145, 0.62), "p": (0.145, 0.146), "e": (0.504, 0.05), "mu": (0.06, 0.01), "lam": (0.115, 3.6e-3),
             "xim": (0.26, 7.9e-3), "xi0": (0.742, 0.074), "sigp": (1.063, 0.028), "sig0": (0.683, 3.9e-3),
             "sigm": (0.469, 7.9e-4), "ep": (0.743, 6.6e-5), "mup": (1.008, 3.2e-5)}
B3_LABELS = {"n": (0.149, 0.645), "p": (0.194, 0.115), "e": (0.613, 0.035), "mu": (0.106, 1.7e-3),
             "lam": (0.224, 4.6e-4), "xim": (0.333, 4.6e-4), "xi0": (0.662, 5e-4), "sigp": (1.1, 1.7e-4)}
C1_LABELS = {"n": (0.055, 0.69), "p": (0.055, 0.37), "e": (0.045, 0.174), "mu": (0.052, 0.073), "nu": (0.186, 0.018),
             "lam": (0.266, 8.9e-4), "xim": (0.465, 8.9e-4), "xi0": (0.634, 9.5e-4), "sigp": (0.724, 7.4e-5),
             "sig0": (0.849, 1.7e-5), "sigm": (1.132, 1.7e-5)}
C2_LABELS = {"n": (0.11, 0.53), "p": (0.175, 0.162), "e": (0.718, 0.071), "mu": (0.035, 2.0e-3), "lam": (0.16, 0.01),
             "xim": (0.334, 0.01), "xi0": (0.533, 0.0154), "sigp": (0.878, 0.01), "sig0": (0.698, 2.0e-3),
             "sigm": (0.564, 1.7e-4), "ep": (0.988, 1.8e-5)}
C3_LABELS = {"n": (0.128, 0.68), "p": (0.198, 0.163), "e": (0.818, 0.063), "mu": (0.095, 5.9e-4),
             "lam": (0.259, 5.9e-4), "xim": (0.424, 5.9e-4), "xi0": (0.812, 6.2e-4)}
D1_LABELS = {"n": (0.045, 0.68), "p": (0.045, 0.32), "e": (0.037, 0.178), "mu": (0.045, 0.069), "nu": (0.186, 0.018),
             "lam": (0.266, 7.9e-4), "xim": (0.465, 7.9e-4), "xi0": (0.628, 8.5e-4), "sigp": (0.744, 1.05e-4),
             "sig0": (0.749, 2.0e-5), "sigm": (1.018, 2.0e-5)}
D2_LABELS = {"n": (0.085, 0.68), "p": (0.19, 0.195), "e": (0.688, 0.068), "mu": (0.06, 8.5e-3), "lam": (0.085, 1e-3),
             "xim": (0.344, 0.0135), "xi0": (0.962, 0.076), "sigp": (0.728, 0.0107), "sig0": (0.673, 2.75e-3),
             "sigm": (0.668, 3.6e-4), "ep": (0.923, 1.9e-5), "mup": (1.162, 1.8e-5)}
D3_LABELS = {"n": (0.11, 0.68), "p": (0.227, 0.174), "e": (0.793, 0.052), "mu": (0.095, 4.7e-4),
             "lam": (0.259, 4.7e-4), "xim": (0.424, 4.7e-4), "xi0": (0.787, 4.9e-4), "sigp": (0.923, 4.9e-4)}

ZETAS = ["0.040", "0.040", "0.040", "0.040", "0.040", "0.040", "0.129", "0.129", "0.129", "0.129", "0.129", "0.129"]
G_SIGMA = ["0", "0", "0", "5", "5", "5", "0", "0", "0", "5", "5", "5"]
CASES = ["S/A = 1, Y$_{\\mathregular{l}}$ = 0.4", "S/A = 2, $\\mu_\\nu$ = 0", "T = 0, $\\mu_\\nu$ = 0"]

# parameter box placement: (x in axes fraction, line centres, alignment)
BOX = [
    (0.667, [0.655, 0.582, 0.512], "left"),
    (0.977, [0.435, 0.363, 0.291], "right"),
    (0.730, [0.219, 0.144, 0.072], "left"),
    (0.983, [0.702, 0.632, 0.563], "right"),
    (0.707, [0.468, 0.401, 0.334], "left"),
    (0.304, [0.229, 0.152, 0.075], "left"),
    (0.674, [0.550, 0.480, 0.409], "left"),
    (0.975, [0.288, 0.210, 0.139], "right"),
    (0.985, [0.216, 0.144, 0.067], "right"),
    (0.678, [0.565, 0.495, 0.421], "left"),
    (0.975, [0.335, 0.266, 0.194], "right"),
    (0.983, [0.204, 0.137, 0.060], "right"),
]

COLORS = {
    "n": "#d4a015", "p": "#b37ce6", "e": "#404040", "mu": "#ff3838", "nu": "#2fa878",
    "lam": "#1ec6d0", "xim": "#66bb1a", "xi0": "#5b9bd5", "sigp": "#7d4545",
    "sig0": "#999920", "sigm": "#ff6a10", "ep": "#505050", "mup": "#ff4040",
}
STYLES = {"nu": (0, (1.0, 5.0)), "ep": (0, (6, 4)), "mup": (0, (6, 4))}
WIDTHS = {"nu": 1.8, "ep": 1.0, "mup": 1.0}
DRAW_ORDER = ["e", "p", "n", "mu", "nu", "ep", "mup", "sigp", "sig0", "sigm", "xi0", "xim", "lam"]

LABEL_TEXT = {
    "n": "n", "p": "p", "e": "e$^{-}$", "mu": r"$\mu^{-}$", "nu": r"$\nu_e$=$\nu_\mu$",
    "lam": r"$\Lambda^{\mathregular{0}}$", "sigp": r"$\Sigma^{+}$", "sig0": r"$\Sigma^{\mathregular{0}}$",
    "sigm": r"$\Sigma^{-}$", "ep": "e$^{+}$", "mup": r"$\mu^{+}$",
}
XI_SUP = {"xim": "-", "xi0": "0"}

W, H = 1310, 1418
COL_LEFT_TOP = [67.5, 468.5, 870.5]
COL_LEFT_BOT = [71.0, 473.3, 875.0]
COL_W = 401.5
ROWS = [(7, 330), (330, 654), (716, 1040), (1040, 1362.5)]

DECADES = [1e-5, 1e-4, 1e-3, 1e-2, 1e-1, 1.0]
DECADE_TEXT = [r"$\mathregular{10^{-5}}$", r"$\mathregular{10^{-4}}$", r"$\mathregular{10^{-3}}$",
               r"$\mathregular{10^{-2}}$", r"$\mathregular{10^{-1}}$", r"$\mathregular{10^{0}}$"]
NB_TICKS = [0.0, 0.2, 0.4, 0.6, 0.8, 1.0, 1.2]
NB_TEXT = ["0.0", "0.2", "0.4", "0.6", "0.8", "1.0", "1.2"]


def style_axes(ax, row, col):
    ax.set_yscale("log")
    ax.set_xlim(0, 1.2)
    ax.set_ylim(1e-5, 1.0)
    ax.xaxis.set_major_locator(FixedLocator(NB_TICKS))
    ax.xaxis.set_minor_locator(FixedLocator([0.1, 0.3, 0.5, 0.7, 0.9, 1.1]))
    ax.yaxis.set_major_locator(FixedLocator(DECADES))
    ax.yaxis.set_minor_locator(LogLocator(base=10, subs=range(2, 10), numticks=30))
    ax.yaxis.set_minor_formatter(NullFormatter())
    ax.tick_params(which="both", direction="in", top=True, right=True, labelsize=9.5, width=1.0)
    ax.tick_params(which="major", length=5)
    ax.tick_params(which="minor", length=2.8)
    ax.tick_params(axis="x", pad=5)
    ax.tick_params(axis="y", pad=3)
    for sp in ax.spines.values():
        sp.set_linewidth(1.2)

    if row in (1, 3):
        xt = list(NB_TEXT) if col == 2 else NB_TEXT[:-1] + [""]
        ax.xaxis.set_major_formatter(FixedFormatter(xt))
    else:
        ax.xaxis.set_major_formatter(NullFormatter())
    if col == 0:
        yt = list(DECADE_TEXT) if row in (0, 2) else DECADE_TEXT[:-1] + [""]
        ax.yaxis.set_major_formatter(FixedFormatter(yt))
    else:
        ax.yaxis.set_major_formatter(NullFormatter())


def draw_panel(ax, curves, labels, zeta, g, case, box):
    for key in DRAW_ORDER:
        if key not in curves:
            continue
        xs, ys = curves[key]
        ax.plot(xs, ys, color=COLORS[key], lw=WIDTHS.get(key, 1.0),
                ls=STYLES.get(key, "-"), solid_joinstyle="round")
    for key, (x, y) in labels.items():
        if key in XI_SUP:
            # the cascade symbol is set on its side, its charge upright
            ax.text(x, y, r"$\Xi$", rotation=90, ha="center", va="center", fontsize=16)
            ax.annotate(XI_SUP[key], (x, y), xytext=(6, 8), textcoords="offset points",
                        ha="left", va="center", fontsize=10)
        else:
            ax.text(x, y, LABEL_TEXT[key], ha="center", va="center", fontsize=12)
    bx, bys, ha = box
    lines = [r"$\zeta$ = " + zeta, r"SU(6), g$_{\sigma*}$ = " + g, case]
    for text, by in zip(lines, bys):
        ax.text(bx, by, text, transform=ax.transAxes, ha=ha, va="center", fontsize=11.5)


fig = plt.figure(figsize=(W / 100, H / 100), dpi=100)

panels = [
    (A1, A1_LABELS), (A2, A2_LABELS), (A3, A3_LABELS),
    (B1, B1_LABELS), (B2, B2_LABELS), (B3, B3_LABELS),
    (C1, C1_LABELS), (C2, C2_LABELS), (C3, C3_LABELS),
    (D1, D1_LABELS), (D2, D2_LABELS), (D3, D3_LABELS),
]

for i, (curves, labels) in enumerate(panels):
    row, col = divmod(i, 3)
    top, bottom = ROWS[row]
    left = (COL_LEFT_TOP if row < 2 else COL_LEFT_BOT)[col]
    ax = fig.add_axes([left / W, 1 - bottom / H, COL_W / W, (bottom - top) / H])
    style_axes(ax, row, col)
    draw_panel(ax, curves, labels, ZETAS[i], G_SIGMA[i], CASES[col], BOX[i])

for y_px in (163, 490, 875, 1198):
    fig.text(20 / W, 1 - y_px / H, r"Y$_{\mathregular{j}}$", rotation=90, ha="center", va="center", fontsize=12)
for y_px in (689, 1402):
    fig.text(672 / W, 1 - y_px / H, r"n$_{\mathregular{B}}$ (fm$^{\mathregular{-3}}$)",
             ha="center", va="center", fontsize=12)

fig.savefig("out.png", dpi=100)
